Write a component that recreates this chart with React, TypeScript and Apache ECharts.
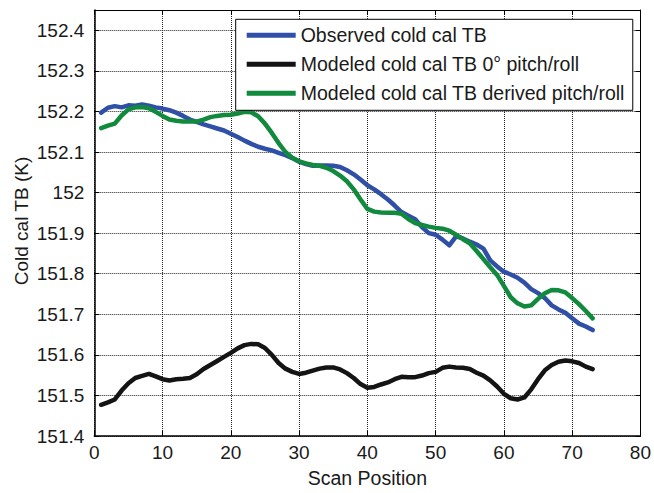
import React, { useEffect, useRef } from "react";
import * as echarts from "echarts";

const scanPositions: number[] = Array.from({ length: 73 }, (_, i) => i + 1);

const observed: number[] = [
  152.197, 152.209, 152.213, 152.210, 152.215, 152.214, 152.217, 152.214, 152.210, 152.207,
  152.203, 152.197, 152.189, 152.180, 152.174, 152.168, 152.163, 152.158, 152.153, 152.145,
  152.137, 152.128, 152.120, 152.113, 152.108, 152.104, 152.098, 152.092, 152.085, 152.076,
  152.070, 152.066, 152.067, 152.067, 152.066, 152.063, 152.055, 152.045, 152.032, 152.018,
  152.008, 151.996, 151.983, 151.968, 151.952, 151.943, 151.934, 151.915, 151.900, 151.896,
  151.884, 151.870, 151.892, 151.887, 151.879, 151.872, 151.862, 151.833, 151.818, 151.805,
  151.798, 151.790, 151.778, 151.762, 151.752, 151.740, 151.722, 151.712, 151.704, 151.690,
  151.677, 151.670, 151.661,
];

const modeledZero: number[] = [
  151.477, 151.483, 151.490, 151.512, 151.530, 151.543, 151.548, 151.553, 151.547, 151.540,
  151.537, 151.540, 151.541, 151.543, 151.552, 151.565, 151.575, 151.585, 151.595, 151.605,
  151.616, 151.624, 151.627, 151.626, 151.617, 151.600, 151.580, 151.566, 151.558, 151.553,
  151.556, 151.561, 151.566, 151.569, 151.569, 151.564, 151.555, 151.543, 151.528, 151.519,
  151.521, 151.527, 151.532, 151.540, 151.546, 151.545, 151.545, 151.549, 151.555, 151.558,
  151.568, 151.571, 151.569, 151.568, 151.565, 151.556, 151.549, 151.537, 151.522, 151.504,
  151.493, 151.490, 151.495, 151.515, 151.540, 151.562, 151.575, 151.583, 151.586, 151.584,
  151.580, 151.571, 151.565,
];

const modeledDerived: number[] = [
  152.159, 152.165, 152.170, 152.190, 152.205, 152.210, 152.211, 152.208, 152.199, 152.189,
  152.180, 152.177, 152.175, 152.175, 152.175, 152.180, 152.186, 152.189, 152.191, 152.192,
  152.195, 152.199, 152.198, 152.188, 152.170, 152.147, 152.122, 152.100, 152.086, 152.077,
  152.072, 152.068, 152.066, 152.061, 152.053, 152.042, 152.028, 152.008, 151.983, 151.960,
  151.953, 151.951, 151.950, 151.950, 151.948, 151.935, 151.925, 151.920, 151.916, 151.913,
  151.911, 151.906, 151.896, 151.885, 151.875, 151.856, 151.836, 151.816, 151.797, 151.770,
  151.742, 151.727, 151.719, 151.722, 151.738, 151.752, 151.760, 151.759, 151.754, 151.740,
  151.725, 151.708, 151.690,
];

const seriesNames: string[] = [
  "Observed cold cal TB",
  "Modeled cold cal TB 0\u00b0 pitch/roll",
  "Modeled cold cal TB derived pitch/roll",
];
const seriesColors: string[] = ["#2f50a6", "#141414", "#118a3d"];

const FONT = "Liberation Sans, Arial, Helvetica, sans-serif";

export default function App() {
  const ref = useRef<HTMLDivElement>(null);
  useEffect(() => {
    document.body.style.margin = "0";
    if (!ref.current) return;
    const chart = echarts.init(ref.current, null, { renderer: "svg" });
    const allData = [observed, modeledZero, modeledDerived];
    const gridLine = { show: true, lineStyle: { color: "#222", width: 1, type: [1, 1] as any } };
    const yFmt = (v: number) => {
      const r = Math.round(v * 10) / 10;
      if (Math.abs(r - v) > 1e-6) return "";
      return String(parseFloat(r.toFixed(1)));
    };
    const option: any = {
      animation: false,
      backgroundColor: "#fff",
      grid: { left: 94.3, right: 11, top: 10, bottom: 50.7, containLabel: false },
      legend: {
        orient: "vertical",
        left: 235.7,
        top: 19.3,
        backgroundColor: "#fff",
        borderColor: "#000",
        borderWidth: 1,
        borderRadius: 0,
        padding: [6, 8, 7, 11],
        itemWidth: 49,
        itemHeight: 5,
        itemGap: 9,
        icon: "rect",
        textStyle: { fontFamily: FONT, fontSize: 19.5, color: "#1a1a1a", lineHeight: 19 },
        data: seriesNames.map((n, i) => ({ name: n, itemStyle: { color: seriesColors[i] } })),
      },
      xAxis: [
        {
          type: "value",
          min: 0,
          max: 80,
          interval: 10,
          name: "Scan Position",
          nameLocation: "middle",
          nameGap: 32,
          nameTextStyle: { fontFamily: FONT, fontSize: 19.5, color: "#1a1a1a" },
          axisLine: { show: true, onZero: false, lineStyle: { color: "#000", width: 1.5 } },
          axisTick: { show: true, inside: true, length: 5, lineStyle: { color: "#000" } },
          axisLabel: { fontFamily: FONT, fontSize: 19, color: "#1a1a1a", margin: 7 },
          splitLine: gridLine,
        },
        {
          type: "value",
          position: "top",
          min: 0,
          max: 80,
          interval: 10,
          axisLine: { show: true, onZero: false, lineStyle: { color: "#000", width: 1 } },
          axisTick: { show: true, inside: true, length: 5, lineStyle: { color: "#000" } },
          axisLabel: { show: false },
          splitLine: { show: false },
        },
      ],
      yAxis: [
        {
          type: "value",
          min: 151.4,
          max: 152.45,
          interval: 0.1,
          axisLine: { show: true, onZero: false, lineStyle: { color: "#000", width: 1.5 } },
          axisTick: { show: true, inside: true, length: 5, lineStyle: { color: "#000" } },
          axisLabel: { fontFamily: FONT, fontSize: 19, color: "#1a1a1a", margin: 10, formatter: yFmt },
          splitLine: gridLine,
        },
        {
          type: "value",
          position: "right",
          min: 151.4,
          max: 152.45,
          interval: 0.1,
          axisLine: { show: true, onZero: false, lineStyle: { color: "#000", width: 1 } },
          axisTick: { show: true, inside: true, length: 5, lineStyle: { color: "#000" } },
          axisLabel: { show: false },
          splitLine: { show: false },
        },
      ],
      graphic: [
        {
          type: "text",
          x: 21,
          y: 221,
          rotation: Math.PI / 2,
          style: {
            text: "Cold cal TB (K)",
            fontFamily: FONT,
            fontSize: 19,
            fill: "#1a1a1a",
            textAlign: "center",
            textVerticalAlign: "middle",
          },
        },
      ],
      series: allData.map((d, i) => ({
        name: seriesNames[i],
        type: "line",
        xAxisIndex: 0,
        yAxisIndex: 0,
        showSymbol: false,
        symbol: "none",
        color: seriesColors[i],
        lineStyle: { color: seriesColors[i], width: 4.5, join: "round", cap: "round" },
        data: d.map((v, j) => [scanPositions[j], v]),
      })),
    };
    chart.setOption(option);
    return () => chart.dispose();
  }, []);
  return (
    <div
      ref={ref}
      style={{ position: "absolute", left: 0, top: 0, width: 654, height: 493 }}
    />
  );
}
